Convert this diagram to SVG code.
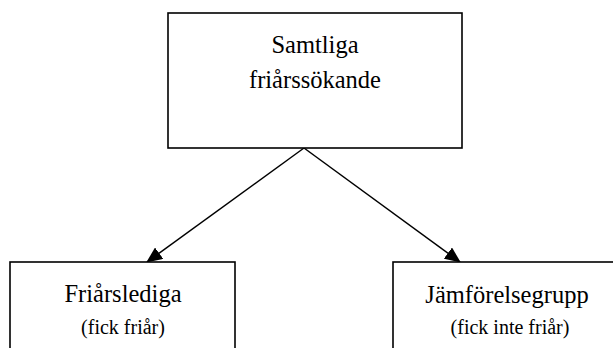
<svg xmlns="http://www.w3.org/2000/svg" width="613" height="348" viewBox="0 0 613 348">
<style>
.box{fill:#fff;stroke:#000;stroke-width:1.6}
.big{font-size:24.5px;fill:#000;text-anchor:middle}
.small{font-size:20px;fill:#000;text-anchor:middle}
.conn{stroke:#000;stroke-width:1.5;fill:none;marker-end:url(#ah)}
</style>
<defs>
<marker id="ah" markerWidth="16" markerHeight="14" refX="15" refY="7" orient="auto" markerUnits="userSpaceOnUse">
<path d="M0,0 L16,7 L0,14 Z" fill="#000"/>
</marker>
</defs>
<rect width="613" height="348" fill="#fff"/>
<g id="connectors">
<line class="conn" x1="304" y1="148" x2="147" y2="262"/>
<line class="conn" x1="304" y1="148" x2="460" y2="262"/>
</g>
<g id="node-samtliga" font-family="'Liberation Serif', 'DejaVu Serif', serif">
<rect class="box" x="168" y="13" width="294" height="135"/>
<text class="big" x="315" y="53">Samtliga</text>
<text class="big" x="315" y="88">friårssökande</text>
</g>
<g id="node-friarslediga" font-family="'Liberation Serif', 'DejaVu Serif', serif">
<rect class="box" x="10" y="262" width="225" height="100"/>
<text class="big" x="123" y="302">Friårslediga</text>
<text class="small" x="123" y="334">(fick friår)</text>
</g>
<g id="node-jamforelsegrupp" font-family="'Liberation Serif', 'DejaVu Serif', serif">
<rect class="box" x="393" y="262" width="240" height="100"/>
<text class="big" x="507" y="303">Jämförelsegrupp</text>
<text class="small" x="510" y="334">(fick inte friår)</text>
</g>
</svg>
